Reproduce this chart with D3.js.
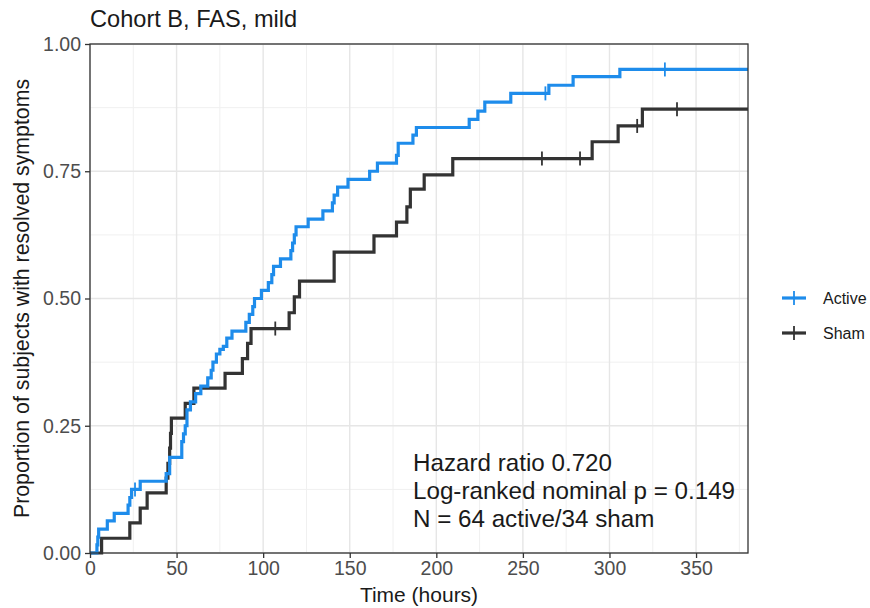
<!DOCTYPE html>
<html>
<head>
<meta charset="utf-8">
<script src="https://cdn.jsdelivr.net/npm/d3@7"></script>
<style>
  html, body { margin: 0; padding: 0; background: #ffffff; }
  svg { display: block; font-family: "Liberation Sans", Arial, sans-serif; }
</style>
</head>
<body>
<svg id="chart" width="870" height="608"></svg>
<script>
// ---------------- data ----------------
const title = "Cohort B, FAS, mild";
const xLabel = "Time (hours)";
const yLabel = "Proportion of subjects with resolved symptoms";
const seriesNames = ["Active", "Sham"];
const seriesColors = ["#1E8CEB", "#333333"];
const xTicks = [0, 50, 100, 150, 200, 250, 300, 350];
const xMinor = [25, 75, 125, 175, 225, 275, 325, 375];
const yTicks = [0, 0.25, 0.5, 0.75, 1.0];
const yMinor = [0.125, 0.375, 0.625, 0.875];
const xMax = 380;

// [time, proportion resolved after step]
const activeSteps = [
  [0,0],[4,0.016],[4.5,0.031],[5,0.047],[10,0.063],[14,0.078],[22,0.094],[23,0.109],[24,0.125],
  [29,0.141],[44,0.156],[46,0.188],[53,0.219],[54,0.234],[55,0.25],[56,0.281],[58,0.297],
  [61,0.313],[64,0.328],[68,0.344],[70,0.359],[71,0.375],[73,0.391],[75,0.4],[77,0.406],
  [79,0.422],[82,0.436],[90,0.453],[92,0.469],[94,0.484],[95,0.5],[99,0.516],[103,0.531],
  [105,0.547],[106,0.563],[110,0.578],[116,0.594],[117,0.609],[118,0.625],[119,0.641],
  [126,0.656],[134.5,0.672],[140,0.688],[141,0.703],[143,0.719],[149,0.734],[161.5,0.75],
  [166,0.766],[177,0.781],[178,0.805],[186.5,0.821],[188.5,0.836],[219,0.852],[224,0.868],
  [228,0.886],[243,0.903],[265,0.919],[279,0.936],[306,0.95]
];
const shamSteps = [
  [0,0],[6.7,0.029],[23,0.059],[29,0.088],[33,0.118],[44,0.147],[45,0.176],[46,0.206],
  [46.5,0.235],[47,0.265],[55,0.294],[60,0.324],[78,0.353],[88,0.382],[91,0.412],[93,0.441],
  [115,0.472],[118,0.503],[121,0.534],[141,0.591],[164,0.623],[177,0.65],[183,0.68],
  [185,0.715],[193,0.743],[209.5,0.775],[290,0.808],[305,0.839],[319,0.872]
];
// censor marks [time, proportion]
const activeCensor = [[26,0.125],[263,0.903],[332,0.95]];
const shamCensor = [[107,0.441],[261,0.775],[283,0.775],[316,0.839],[339,0.872]];

const annotationLines = [
  "Hazard ratio 0.720",
  "Log-ranked nominal p = 0.149",
  "N = 64 active/34 sham"
];

// ---------------- layout ----------------
const panel = { left: 90, top: 44, right: 748, bottom: 553 };
const svg = d3.select("#chart");

const x = d3.scaleLinear().domain([0, xMax]).range([panel.left, panel.right]);
const y = d3.scaleLinear().domain([0, 1]).range([panel.bottom, panel.top]);

// panel background
svg.append("rect")
  .attr("x", panel.left).attr("y", panel.top)
  .attr("width", panel.right - panel.left).attr("height", panel.bottom - panel.top)
  .attr("fill", "#ffffff");

// grid
const grid = svg.append("g");
grid.selectAll(".vminor").data(xMinor.filter(d => d < xMax)).join("line")
  .attr("x1", d => x(d)).attr("x2", d => x(d))
  .attr("y1", panel.top).attr("y2", panel.bottom)
  .attr("stroke", "#F0F0F0").attr("stroke-width", 1);
grid.selectAll(".hminor").data(yMinor).join("line")
  .attr("x1", panel.left).attr("x2", panel.right)
  .attr("y1", d => y(d)).attr("y2", d => y(d))
  .attr("stroke", "#F0F0F0").attr("stroke-width", 1);
grid.selectAll(".vmajor").data(xTicks).join("line")
  .attr("x1", d => x(d)).attr("x2", d => x(d))
  .attr("y1", panel.top).attr("y2", panel.bottom)
  .attr("stroke", "#E6E6E6").attr("stroke-width", 1.4);
grid.selectAll(".hmajor").data(yTicks).join("line")
  .attr("x1", panel.left).attr("x2", panel.right)
  .attr("y1", d => y(d)).attr("y2", d => y(d))
  .attr("stroke", "#E6E6E6").attr("stroke-width", 1.4);

// curves
const line = d3.line()
  .x(d => x(d[0])).y(d => y(d[1]))
  .curve(d3.curveStepAfter);

function extend(steps) {
  const last = steps[steps.length - 1];
  return steps.concat([[xMax, last[1]]]);
}

const series = [
  { name: seriesNames[1], color: seriesColors[1], steps: shamSteps, censor: shamCensor },
  { name: seriesNames[0], color: seriesColors[0], steps: activeSteps, censor: activeCensor }
];

const plot = svg.append("g");
series.forEach(s => {
  plot.append("path")
    .datum(extend(s.steps))
    .attr("d", line)
    .attr("fill", "none")
    .attr("stroke", s.color)
    .attr("stroke-width", 3.2)
    .attr("stroke-linejoin", "miter");
  plot.selectAll(null).data(s.censor).join("line")
    .attr("x1", d => x(d[0])).attr("x2", d => x(d[0]))
    .attr("y1", d => y(d[1]) - 7).attr("y2", d => y(d[1]) + 7)
    .attr("stroke", s.color).attr("stroke-width", 1.8);
});

// panel border
svg.append("rect")
  .attr("x", panel.left).attr("y", panel.top)
  .attr("width", panel.right - panel.left).attr("height", panel.bottom - panel.top)
  .attr("fill", "none").attr("stroke", "#333333").attr("stroke-width", 1.3);

// axes
const xAxis = svg.append("g")
  .attr("transform", `translate(0,${panel.bottom})`)
  .call(d3.axisBottom(x).tickValues(xTicks).tickSize(5).tickPadding(3).tickFormat(d3.format("d")));
const yAxis = svg.append("g")
  .attr("transform", `translate(${panel.left},0)`)
  .call(d3.axisLeft(y).tickValues(yTicks).tickSize(5).tickPadding(4).tickFormat(d3.format(".2f")));
[xAxis, yAxis].forEach(a => {
  a.select(".domain").remove();
  a.selectAll(".tick line").attr("stroke", "#333333").attr("stroke-width", 1.3);
  a.selectAll(".tick text")
    .attr("fill", "#4D4D4D")
    .style("font-size", "19.5px")
    .style("font-family", "'Liberation Sans', Arial, sans-serif");
});

// titles
svg.append("text")
  .attr("x", panel.left).attr("y", 27)
  .attr("fill", "#1a1a1a")
  .style("font-size", "23.6px")
  .text(title);

svg.append("text")
  .attr("x", (panel.left + panel.right) / 2).attr("y", 602)
  .attr("text-anchor", "middle")
  .attr("fill", "#1a1a1a")
  .style("font-size", "21px")
  .text(xLabel);

svg.append("text")
  .attr("transform", `translate(29,${(panel.top + panel.bottom) / 2}) rotate(-90)`)
  .attr("text-anchor", "middle")
  .attr("fill", "#1a1a1a")
  .style("font-size", "21.3px")
  .text(yLabel);

// annotation
const ann = svg.append("g");
annotationLines.forEach((t, i) => {
  ann.append("text")
    .attr("x", 413).attr("y", 471 + i * 28)
    .attr("fill", "#1a1a1a")
    .style("font-size", "24.2px")
    .text(t);
});

// legend
const legendOrder = [0, 1];
const legend = svg.append("g");
legendOrder.forEach((k, i) => {
  const cy = 298 + i * 35;
  legend.append("line")
    .attr("x1", 782).attr("x2", 806).attr("y1", cy).attr("y2", cy)
    .attr("stroke", seriesColors[k]).attr("stroke-width", 3.2);
  legend.append("line")
    .attr("x1", 794).attr("x2", 794).attr("y1", cy - 7).attr("y2", cy + 7)
    .attr("stroke", seriesColors[k]).attr("stroke-width", 1.8);
  legend.append("text")
    .attr("x", 823).attr("y", cy + 5.5)
    .attr("fill", "#1a1a1a")
    .style("font-size", "16px")
    .text(seriesNames[k]);
});
</script>
</body>
</html>
